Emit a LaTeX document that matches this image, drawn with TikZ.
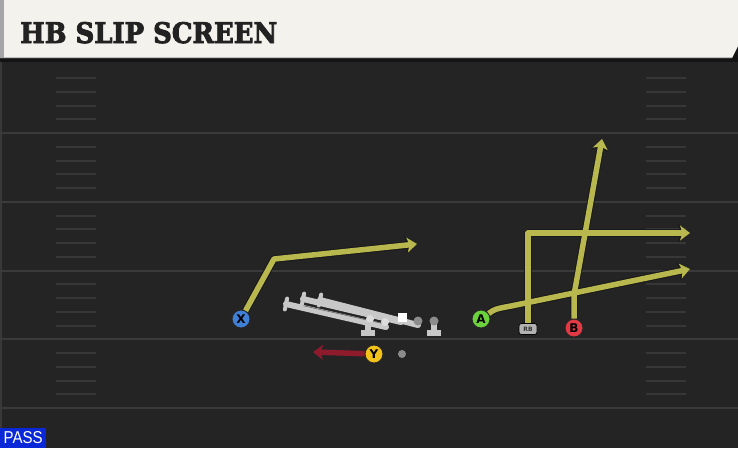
\documentclass[tikz,border=0pt]{standalone}
\usepackage{fontspec}
\usepackage{graphicx}
\setmainfont{DejaVu Serif}
\newfontfamily\titlefont{DejaVu Serif}[UprightFont={* Bold}, FakeBold=3]
\newfontfamily\lblfont{DejaVu Sans}
\newfontfamily\passfont{Liberation Sans}
\usetikzlibrary{arrows.meta}
\definecolor{cream}{HTML}{F4F2EC}
\definecolor{fieldc}{HTML}{242424}
\definecolor{yardc}{HTML}{3A3A3A}
\definecolor{hashc}{HTML}{373737}
\definecolor{routec}{HTML}{B8B84E}
\definecolor{redroute}{HTML}{8E1B2C}
\definecolor{xblue}{HTML}{3F7FD6}
\definecolor{yyellow}{HTML}{F2C21B}
\definecolor{agreen}{HTML}{6BD23C}
\definecolor{bred}{HTML}{E23A45}
\definecolor{passblue}{HTML}{0B28D8}
\definecolor{olgray}{HTML}{C8C8C8}
\definecolor{ollight}{HTML}{DCDCDC}
\definecolor{titlec}{HTML}{222222}
\begin{document}
\begin{tikzpicture}[x=1pt,y=-1pt,
  player/.style={circle, draw=black!85, line width=0.9pt, minimum size=18pt, inner sep=0pt,
    font=\lblfont\bfseries\fontsize{12}{12}\selectfont, text=black},
  rbbox/.style={rectangle, rounded corners=2.5pt, fill=black!30, draw=black, line width=0.7pt,
    minimum width=18pt, minimum height=11pt, inner sep=0pt,
    font=\lblfont\bfseries\fontsize{6}{6}\selectfont, text=black!80},
  routeout/.style={draw=black!90, line width=7.5pt, line join=round, -{Stealth[length=12pt,width=18pt,inset=3pt]}},
  routein/.style={draw=routec, line width=5.5pt, line join=round, -{Stealth[length=10pt,width=15pt,inset=2.5pt]}},
  redrt/.style={draw=redroute, line width=5.5pt, -{Stealth[length=10pt,width=15pt,inset=2.5pt]}},
  yard/.style={draw=yardc, line width=2pt},
  hash/.style={draw=hashc, line width=2pt},
  olbar/.style={draw=olgray, line width=6pt, line cap=round},
  olcap/.style={draw=olgray, line width=4pt, line cap=round}]
\useasboundingbox (0,0) rectangle (738,448);
% background
\fill[black!92] (0,0) rectangle (738,448);
\fill[cream] (0,0) -- (738,0) -- (738,46) -- (732,58) -- (0,58) -- cycle;
\fill[black!35] (0,0) rectangle (4,58);
\fill[black!25] (4,56.5) rectangle (732,58);
\fill[fieldc] (0,62) rectangle (738,448);
\fill[black!78] (0,62) rectangle (2,448);
% yard lines and hashes
\foreach \yy in {133,201.75,270.5,339.25,408} \draw[yard] (0,\yy) -- (738,\yy);
\foreach \k in {0,...,4} \foreach \j in {1,...,4} {
  \pgfmathsetmacro\yy{64.25+68.75*\k+13.75*\j}
  \draw[hash] (56,\yy) -- (96,\yy);
  \draw[hash] (646,\yy) -- (686,\yy);
}
% title
\node[anchor=base west, inner sep=0pt, text=titlec] (title) at (20,43)
  {\resizebox{257pt}{21pt}{\titlefont HB SLIP SCREEN}};
% pass label
\node[fill=passblue, anchor=south west, minimum width=46pt, minimum height=20pt, inner sep=0pt, text=white] (pass) at (0,448)
  {\resizebox{39pt}{12pt}{\passfont PASS}};
% offensive line (blocking marks)
\draw[olbar] (286,304) -- (386,327);
\draw[olbar] (303,299) -- (401,322);
\draw[olbar] (320,300) -- (418,325);
\draw[black!60, line width=0.6pt] (300,305) -- (385,324);
\draw[olcap] (287.1,298.6) -- (284.9,309.4);
\draw[olcap] (304.1,293.6) -- (301.9,304.4);
\draw[olcap] (321.1,294.6) -- (318.9,305.4);
\fill[ollight] (370,319) circle (4);
\fill[ollight] (385,322) circle (4);
\draw[olbar, line cap=butt] (368,322) -- (368,332);
\draw[olbar, line cap=butt] (361,333) -- (375,333);
\draw[olbar, line cap=butt] (434,322) -- (434,332);
\draw[olbar, line cap=butt] (427,333) -- (441,333);
\fill[black!45] (418,321) circle (4.5);
\fill[black!45] (434,321) circle (4.5);
\fill[white] (398,313) rectangle (407,322);
% players
\node[player, fill=xblue] (X) at (241,319) {X};
\node[player, fill=yyellow] (Y) at (374,354) {Y};
\node[player, fill=agreen] (A) at (481,319) {A};
\node[player, fill=bred] (B) at (574,328) {B};
\node[rbbox] (RB) at (528,329) {RB};
\node[circle, fill=black!45, minimum size=8pt, inner sep=0pt] (dot) at (402,354) {};
% route points
\coordinate (xbend) at (274,259);
\coordinate (xtip) at (417,244);
\coordinate (ytip) at (313,352);
\coordinate (abend) at (511,306);
\coordinate (atip) at (690,269);
\coordinate (rbtip) at (690,233);
\coordinate (bbend) at (574,295);
\coordinate (btip) at (602,139);
% routes: outline then fill
\draw[routeout] (X) -- (xbend) -- (xtip);
\draw[routeout] (RB.north) |- (rbtip);
\draw[routeout] (B.north) -- (bbend) -- (btip);
\draw[routeout] (A) .. controls (495,309) .. (abend) -- (atip);
\draw[routein] (X) -- (xbend) -- (xtip);
\draw[routein] (RB.north) |- (rbtip);
\draw[routein] (B.north) -- (bbend) -- (btip);
\draw[routein] (A) .. controls (495,309) .. (abend) -- (atip);
\draw[redrt] (Y) -- (ytip);
\end{tikzpicture}
\end{document}
